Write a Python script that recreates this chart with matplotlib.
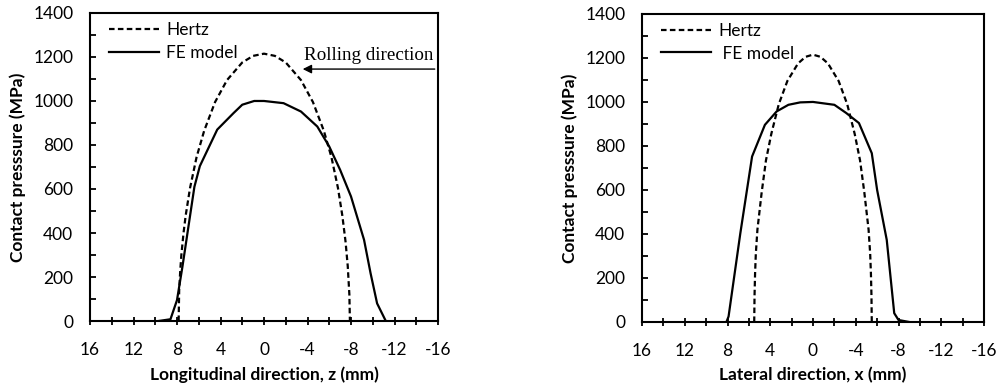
import matplotlib
matplotlib.use("Agg")
import matplotlib.pyplot as plt
from matplotlib.ticker import MultipleLocator

plt.rcParams['font.family'] = ['Lato', 'DejaVu Sans']
plt.rcParams['axes.unicode_minus'] = False

# ---- data: longitudinal (left) ----
hertz_z = [7.85, 7.8, 7.7, 7.6, 7.4, 7.2, 6.8, 6.2, 5.5, 4.5, 3.4, 2.0, 1.0, 0.0,
           -1.0, -2.0, -3.4, -4.5, -5.5, -6.2, -6.8, -7.2, -7.5, -7.7, -7.85, -7.9]
hertz_z_p = [0, 140, 230, 300, 400, 480, 605, 745, 865, 995, 1095, 1175, 1205, 1215,
             1205, 1175, 1095, 995, 865, 745, 605, 480, 360, 250, 120, 0]

fe_z = [9.7, 8.6, 8.0, 7.5, 6.4, 5.9, 4.3, 2.8, 2.0, 0.9, 0.0, -1.8, -3.4, -4.9,
        -6.0, -7.0, -8.0, -9.2, -9.8, -10.4, -11.2]
fe_z_p = [0, 8, 95, 247, 610, 704, 870, 945, 983, 1000, 1000, 990, 952, 884,
          793, 687, 566, 369, 217, 80, 0]

# ---- data: lateral (right) ----
hertz_x = [5.5, 5.47, 5.42, 5.35, 5.2, 5.0, 4.8, 4.4, 3.9, 3.2, 2.4, 1.4, 0.7, 0.0,
           -0.7, -1.4, -2.4, -3.2, -3.9, -4.4, -4.8, -5.0, -5.2, -5.35, -5.42, -5.47, -5.5]
hertz_x_p = [0, 120, 220, 310, 420, 505, 590, 735, 855, 990, 1095, 1175, 1205, 1215,
             1205, 1175, 1095, 990, 855, 735, 590, 505, 420, 310, 220, 120, 0]

fe_x = [8.1, 7.9, 6.8, 5.7, 4.5, 3.4, 2.3, 1.2, 0.0, -2.0, -3.1, -4.3, -5.5,
        -6.0, -6.9, -7.6, -8.0, -9.0]
fe_x_p = [0, 25, 403, 752, 896, 957, 987, 998, 1000, 987, 950, 904, 767,
          600, 373, 40, 9, 0]

xticks = [16, 12, 8, 4, 0, -4, -8, -12, -16]
yticks = [0, 200, 400, 600, 800, 1000, 1200, 1400]

fig = plt.figure(figsize=(10, 3.87), dpi=100)
ax1 = fig.add_axes([0.090, 0.1705, 0.348, 0.796])
ax2 = fig.add_axes([0.642, 0.168, 0.342, 0.796])

FS = 12.5

def style(ax, xlabel):
    ax.set_xlim(16, -16)
    ax.set_ylim(0, 1400)
    ax.set_xticks(xticks)
    ax.set_yticks(yticks)
    ax.xaxis.set_minor_locator(MultipleLocator(2))
    ax.yaxis.set_minor_locator(MultipleLocator(100))
    for s in ax.spines.values():
        s.set_linewidth(1.5)
    ax.tick_params(axis='x', which='both', direction='inout', length=6, width=1.3,
                   labelsize=FS, pad=12)
    ax.tick_params(axis='y', which='both', direction='in', length=4, width=1.3,
                   labelsize=FS, pad=12)
    ax.set_xlabel(xlabel, fontsize=FS, fontweight='bold', labelpad=6)
    ax.set_ylabel('Contact presssure (MPa)', fontsize=FS, fontweight='bold', labelpad=5)

ax1.plot(hertz_z, hertz_z_p, color='black', lw=1.6, ls=(0, (2.5, 1.5)), label='Hertz')
ax1.plot(fe_z, fe_z_p, color='black', lw=1.6, label='FE model')
style(ax1, 'Longitudinal direction, z (mm)')
ax1.legend(loc='upper left', bbox_to_anchor=(0.03, 1.0), frameon=False, fontsize=FS,
           handlelength=2.9, handletextpad=0.4, labelspacing=0.4, borderaxespad=0.1)
ax1.annotate('', xy=(-3.56, 1145), xytext=(-15.7, 1145),
             arrowprops=dict(arrowstyle='-|>', color='black', lw=1.0, mutation_scale=13,
                             shrinkA=0, shrinkB=0))
ax1.text(-15.55, 1205, 'Rolling direction', family='Liberation Serif', fontsize=13.7,
         ha='right', va='center')

ax2.plot(hertz_x, hertz_x_p, color='black', lw=1.6, ls=(0, (2.5, 1.5)), label='Hertz')
ax2.plot(fe_x, fe_x_p, color='black', lw=1.6, label=' FE model')
style(ax2, 'Lateral direction, x (mm)')
ax2.legend(loc='upper left', bbox_to_anchor=(0.03, 1.0), frameon=False, fontsize=FS,
           handlelength=2.9, handletextpad=0.4, labelspacing=0.4, borderaxespad=0.1)

fig.savefig('out.png', dpi=100)
